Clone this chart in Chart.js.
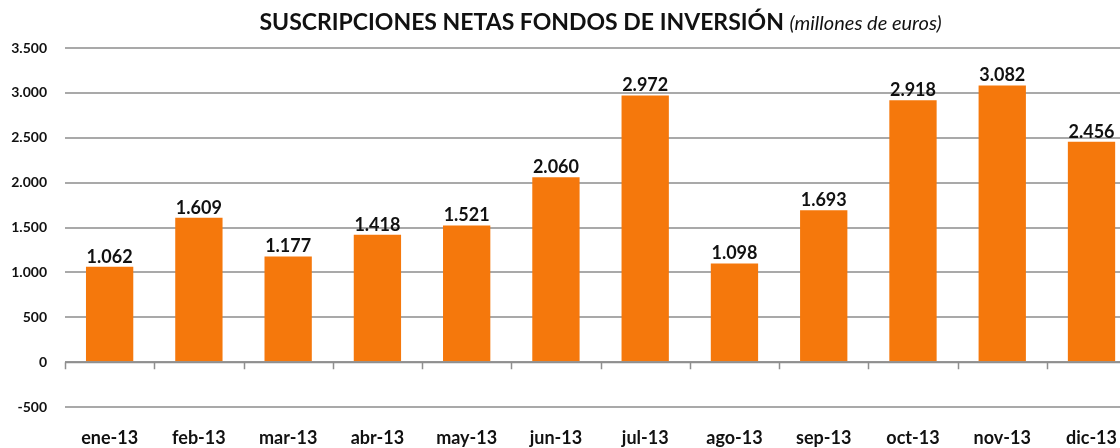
<!DOCTYPE html>
<html>
<head>
<meta charset="utf-8">
<script src="https://cdn.jsdelivr.net/npm/chart.js@4.4.1/dist/chart.umd.min.js"></script>
<style>
  html, body { margin: 0; padding: 0; background: #fff; overflow: hidden; }
  #wrap { width: 1120px; height: 448px; overflow: hidden; }
</style>
</head>
<body>
<div id="wrap"><canvas id="chart_suscripciones" width="1137" height="448"></canvas></div>
<script>
// months of 2013
var months = ['ene-13', 'feb-13', 'mar-13', 'abr-13', 'may-13', 'jun-13', 'jul-13', 'ago-13', 'sep-13', 'oct-13', 'nov-13', 'dic-13'];
// net subscriptions, millions of euros
var netSubscriptions = [1062, 1609, 1177, 1418, 1521, 2060, 2972, 1098, 1693, 2918, 3082, 2456];
var titleBold = 'SUSCRIPCIONES NETAS FONDOS DE INVERSIÓN';
var titleItalic = '(millones de euros)';

var FONT = 'Lato, "Open Sans", sans-serif';
var ORANGE = '#f5780c';

function fmt(v) {
    var s = String(Math.abs(Math.round(v))).replace(/\B(?=(\d{3})+(?!\d))/g, '.');
    return (v < 0 ? '-' : '') + s;
}

var chart_suscripciones = new Chart(document.getElementById('chart_suscripciones'), {
    type: 'bar',
    data: {
        labels: months,
        datasets: [{
            label: 'Suscripciones netas',
            data: netSubscriptions,
            backgroundColor: ORANGE,
            borderWidth: 0,
            barPercentage: 0.53,
            categoryPercentage: 1
        }]
    },
    options: {
        animation: false,
        responsive: false,
        layout: { padding: { top: 48, right: 0, left: 2, bottom: 0 } },
        plugins: {
            legend: { display: false },
            title: { display: false },
            tooltip: { enabled: false }
        },
        scales: {
            x: {
                position: 'bottom',
                grid: { display: false, drawTicks: false },
                border: { display: false },
                afterFit: function(scale) { scale.height = 41; },
                ticks: {
                    color: '#111',
                    padding: 20,
                    maxRotation: 0,
                    font: { family: FONT, size: 18, weight: 'bold' }
                }
            },
            y: {
                min: -500,
                max: 3500,
                grid: { color: '#a9a9a9', lineWidth: 2, drawTicks: false },
                border: { display: false },
                afterFit: function(scale) { scale.width = 63; },
                ticks: {
                    stepSize: 500,
                    padding: 18,
                    color: '#111',
                    font: { family: FONT, size: 14, weight: 'bold' },
                    callback: function(value) { return fmt(value); }
                }
            }
        }
    },
    plugins: [{
        id: 'zeroAxis',
        afterDatasetsDraw: function(chart) {
            // category axis drawn at value 0, with tick marks between months
            var ctx = chart.ctx;
            var xs = chart.scales.x, ys = chart.scales.y;
            var y0 = ys.getPixelForValue(0);
            var step = xs.getPixelForValue(1) - xs.getPixelForValue(0);
            ctx.save();
            ctx.strokeStyle = '#8f8f8f';
            ctx.lineWidth = 2;
            ctx.beginPath();
            ctx.moveTo(xs.left, y0);
            ctx.lineTo(xs.right, y0);
            ctx.stroke();
            ctx.lineWidth = 1.5;
            ctx.beginPath();
            for (var i = 0; i <= months.length; i++) {
                var tx = Math.round(xs.getPixelForValue(0) - step / 2 + i * step) + 0.5;
                ctx.moveTo(tx, y0);
                ctx.lineTo(tx, y0 + 7);
            }
            ctx.stroke();
            ctx.restore();
        }
    }, {
        id: 'valueLabels',
        afterDatasetsDraw: function(chart) {
            var ctx = chart.ctx;
            var meta = chart.getDatasetMeta(0);
            ctx.save();
            ctx.fillStyle = '#111';
            ctx.font = 'bold 18px ' + FONT;
            ctx.textAlign = 'center';
            ctx.textBaseline = 'bottom';
            meta.data.forEach(function(bar, i) {
                ctx.fillText(fmt(netSubscriptions[i]), bar.x, bar.y - 1);
            });
            ctx.restore();
        }
    }, {
        id: 'mixedTitle',
        afterDraw: function(chart) {
            var ctx = chart.ctx;
            var area = chart.chartArea;
            ctx.save();
            ctx.fillStyle = '#111';
            ctx.textBaseline = 'alphabetic';
            ctx.textAlign = 'left';
            var boldFont = 'bold 23px ' + FONT;
            var italicFont = 'italic 20px ' + FONT;
            ctx.font = boldFont;
            var w1 = ctx.measureText(titleBold + ' ').width;
            ctx.font = italicFont;
            var w2 = ctx.measureText(titleItalic).width;
            var x0 = (area.left + area.right) / 2 - (w1 + w2) / 2;
            ctx.font = boldFont;
            ctx.fillText(titleBold + ' ', x0, 30);
            ctx.font = italicFont;
            ctx.fillText(titleItalic, x0 + w1, 30);
            ctx.restore();
        }
    }, {
        id: 'whiteBackground',
        beforeDraw: function(chart) {
            var ctx = chart.canvas.getContext('2d');
            ctx.save();
            ctx.globalCompositeOperation = 'destination-over';
            ctx.fillStyle = 'white';
            ctx.fillRect(0, 0, chart.canvas.width, chart.canvas.height);
            ctx.restore();
        }
    }]
});
</script>
</body>
</html>
